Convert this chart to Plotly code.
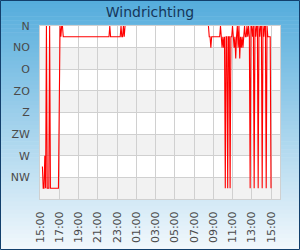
import plotly.graph_objects as go

# ---- data ----
times = [
    "2024-05-01 15:15", "2024-05-01 15:20", "2024-05-01 15:25", "2024-05-01 15:30",
    "2024-05-01 15:35", "2024-05-01 15:40", "2024-05-01 15:45", "2024-05-01 15:55",
    "2024-05-01 16:00", "2024-05-01 16:05", "2024-05-01 16:55", "2024-05-01 17:00",
    "2024-05-01 17:05", "2024-05-01 17:10", "2024-05-01 17:15", "2024-05-01 17:20",
    "2024-05-01 17:25", "2024-05-01 22:10", "2024-05-01 22:15", "2024-05-01 22:20",
    "2024-05-01 23:20", "2024-05-01 23:25", "2024-05-01 23:30", "2024-05-01 23:35",
    "2024-05-01 23:40", "2024-05-01 23:45", "2024-05-01 23:50",
    "2024-05-02 00:00",
    "2024-05-02 08:30", "2024-05-02 08:35", "2024-05-02 08:40", "2024-05-02 08:45",
    "2024-05-02 08:50", "2024-05-02 09:40", "2024-05-02 09:45", "2024-05-02 09:50",
    "2024-05-02 09:55", "2024-05-02 10:00", "2024-05-02 10:05", "2024-05-02 10:10",
    "2024-05-02 10:15", "2024-05-02 10:20", "2024-05-02 10:25", "2024-05-02 10:30",
    "2024-05-02 10:35", "2024-05-02 10:40", "2024-05-02 10:45", "2024-05-02 10:50",
    "2024-05-02 10:55", "2024-05-02 11:00", "2024-05-02 11:05", "2024-05-02 11:10",
    "2024-05-02 11:15", "2024-05-02 11:20", "2024-05-02 11:25", "2024-05-02 11:30",
    "2024-05-02 11:35", "2024-05-02 11:40", "2024-05-02 11:45", "2024-05-02 11:50",
    "2024-05-02 11:55", "2024-05-02 12:00", "2024-05-02 12:05", "2024-05-02 12:10",
    "2024-05-02 12:15", "2024-05-02 12:20", "2024-05-02 12:25", "2024-05-02 12:30",
    "2024-05-02 12:35", "2024-05-02 12:40", "2024-05-02 12:45", "2024-05-02 12:50",
    "2024-05-02 12:55", "2024-05-02 13:00", "2024-05-02 13:05", "2024-05-02 13:10",
    "2024-05-02 13:15", "2024-05-02 13:20", "2024-05-02 13:25", "2024-05-02 13:30",
    "2024-05-02 13:35", "2024-05-02 13:40", "2024-05-02 13:45", "2024-05-02 13:50",
    "2024-05-02 13:55", "2024-05-02 14:00", "2024-05-02 14:05", "2024-05-02 14:10",
    "2024-05-02 14:15", "2024-05-02 14:20", "2024-05-02 14:25", "2024-05-02 14:30",
    "2024-05-02 14:35", "2024-05-02 14:40", "2024-05-02 14:45", "2024-05-02 14:50",
    "2024-05-02 14:55", "2024-05-02 15:00",
]
direction = [
    292.5, 337.5, 337.5, 270,
    337.5, 0, 337.5, 337.5,
    0, 337.5, 337.5, 22.5,
    0, 22.5, 0, 0,
    22.5, 22.5, 0, 22.5,
    22.5, 0, 22.5, 22.5,
    0, 22.5, 0,
    None,
    0, 22.5, 22.5, 45,
    22.5, 22.5, 0, 22.5,
    45, 22.5, 45, 22.5,
    337.5, 22.5, 22.5, 337.5,
    22.5, 22.5, 337.5, 22.5,
    22.5, 0, 22.5, 45,
    22.5, 67.5, 22.5, 0,
    45, 0, 67.5, 22.5,
    45, 22.5, 45, 22.5,
    0, 22.5, 22.5, 0,
    22.5, 0, 22.5, 337.5,
    0, 0, 22.5, 0,
    337.5, 0, 22.5, 0,
    0, 337.5, 0, 22.5,
    0, 0, 337.5, 0,
    22.5, 0, 0, 337.5,
    0, 22.5, 22.5, 22.5,
    22.5, 337.5,
]
dir_ticks = [0, 45, 90, 135, 180, 225, 270, 315]
dir_labels = ["N", "NO", "O", "ZO", "Z", "ZW", "W", "NW"]
band_ranges = [(45, 90), (135, 180), (225, 270), (315, 360)]

W, H = 300, 250
ML, MR, MT, MB = 40, 20, 26, 51
PW, PH = W - ML - MR, H - MT - MB

fig = go.Figure()
fig.add_trace(go.Scatter(
    x=times, y=direction, mode="lines",
    line=dict(color="#ff0000", width=1.1),
    connectgaps=False, hoverinfo="skip",
))

shapes = []
# gradient background over the whole figure
N = 62
top = (84, 172, 220)
bot = (242, 248, 252)
for i in range(N):
    p0 = i * H / N
    p1 = (i + 1) * H / N + 0.6
    f = (i + 0.5) / N
    c = tuple(round(top[k] + (bot[k] - top[k]) * f) for k in range(3))
    shapes.append(dict(
        type="rect", xref="paper", yref="paper", layer="below",
        x0=-ML / PW, x1=1 + MR / PW,
        y0=(H - MB - p1) / PH, y1=(H - MB - p0) / PH,
        fillcolor="rgb(%d,%d,%d)" % c, line=dict(width=0),
    ))
# white plot area
shapes.append(dict(type="rect", xref="paper", yref="paper", layer="below",
                   x0=0, x1=1, y0=0, y1=1, fillcolor="white", line=dict(width=0)))
# alternating bands
for a, b in band_ranges:
    shapes.append(dict(type="rect", xref="paper", yref="y", layer="below",
                       x0=0, x1=1, y0=a, y1=b, fillcolor="#f2f2f2", line=dict(width=0)))
# outer dark border
shapes.append(dict(type="rect", xref="paper", yref="paper", layer="above",
                   x0=-ML / PW + 0.5 / PW, x1=1 + (MR - 0.5) / PW,
                   y0=-(MB - 0.5) / PH, y1=1 + (MT - 0.5) / PH,
                   fillcolor="rgba(0,0,0,0)", line=dict(color="#123f6c", width=1)))

fig.update_layout(
    width=W, height=H,
    margin=dict(l=ML, r=MR, t=MT, b=MB, pad=0, autoexpand=False),
    paper_bgcolor="rgb(230,242,250)",
    plot_bgcolor="white",
    showlegend=False,
    shapes=shapes,
    title=dict(text="Windrichting", x=0.5, xref="container", xanchor="center",
               y=1 - 12 / H, yref="container", yanchor="middle", automargin=False,
               font=dict(family="DejaVu Sans", size=14, color="#15365a")),
    font=dict(family="DejaVu Sans", size=11, color="#4a4a4a"),
)
fig.update_xaxes(
    type="date", range=["2024-05-01 15:00", "2024-05-02 15:56"],
    tick0="2024-05-01 15:00", dtick=7200000, tickformat="%H:%M",
    tickangle=-90, ticks="outside", ticklen=7, tickcolor="rgba(0,0,0,0)",
    showgrid=True, gridcolor="#d0d0d0", gridwidth=1, automargin=False,
    showline=True, linecolor="#d0d0d0", linewidth=1, mirror=True,
    zeroline=False, tickfont=dict(size=11, color="#4a4a4a"),
)
fig.update_yaxes(
    range=[360, 0], tickmode="array", tickvals=dir_ticks, ticktext=dir_labels,
    ticks="outside", ticklen=7, tickcolor="rgba(0,0,0,0)", automargin=False,
    showgrid=True, gridcolor="#d0d0d0", gridwidth=1,
    showline=True, linecolor="#d0d0d0", linewidth=1, mirror=True,
    zeroline=False, tickfont=dict(size=11, color="#4a4a4a"),
)

fig.write_html("out.html", config={"displayModeBar": False})
